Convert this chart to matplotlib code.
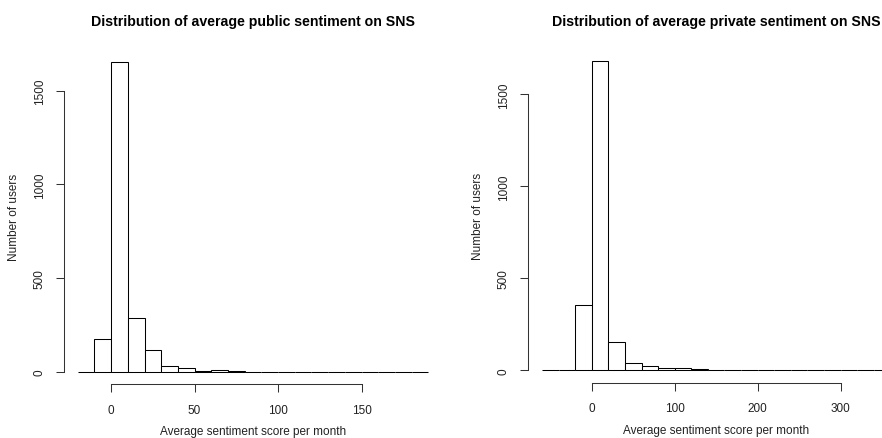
import numpy as np
import matplotlib
matplotlib.use("Agg")
import matplotlib.pyplot as plt

plt.rcParams['font.family'] = ['Liberation Sans', 'DejaVu Sans']

# ---- data ----
public_edges = np.arange(-20, 191, 10)
public_counts = [0, 174, 1655, 285, 116, 29, 18, 5, 9, 4, 1, 0, 0, 0, 0, 0, 0, 0, 0, 0, 0]

private_edges = np.arange(-60, 361, 20)
private_counts = [0, 4, 357, 1683, 152, 40, 24, 15, 11, 5, 0, 4, 0, 0, 0, 0, 0, 0, 0, 0, 2]

public_xticks = [0, 50, 100, 150]
private_xticks = [0, 100, 200, 300]
yticks = [0, 500, 1000, 1500]

titles = ["Distribution of average public sentiment on SNS",
          "Distribution of average private sentiment on SNS"]
xlabel = "Average sentiment score per month"
ylabel = "Number of users"

W, H = 882, 439
fig = plt.figure(figsize=(W / 100, H / 100), dpi=100)

def px_axes(x0, x1, ytop, ybot):
    return fig.add_axes([x0 / W, 1 - ybot / H, (x1 - x0) / W, (ybot - ytop) / H])

ax1 = px_axes(63.7, 442.4, 50.1, 385.1)
ax2 = px_axes(528.0, 904.4, 49.2, 383.7)

def draw(ax, edges, counts, xticks, title):
    edges = np.asarray(edges, float)
    counts = np.asarray(counts, float)
    ax.bar(edges[:-1], counts, width=np.diff(edges), align='edge',
           facecolor='white', edgecolor='black', linewidth=0.75)
    xr = edges[-1] - edges[0]
    ax.set_xlim(edges[0] - 0.04 * xr, edges[-1] + 0.04 * xr)
    m = counts.max()
    ax.set_ylim(-0.04 * m, 1.04 * m)
    for s in ['top', 'right']:
        ax.spines[s].set_visible(False)
    ax.spines['bottom'].set_bounds(xticks[0], xticks[-1])
    ax.spines['left'].set_bounds(yticks[0], yticks[-1])
    for s in ['bottom', 'left']:
        ax.spines[s].set_linewidth(0.75)
        ax.spines[s].set_color('#333333')
    ax.set_xticks(xticks)
    ax.set_yticks(yticks)
    ax.set_yticklabels([str(v) for v in yticks], rotation=90, va='center')
    ax.tick_params(axis='both', length=6, width=0.75, color='#333333',
                   labelsize=8.5, labelcolor='#222222')
    ax.tick_params(axis='x', pad=8)
    ax.tick_params(axis='y', pad=7)
    ax.set_xlabel(xlabel, fontsize=8.5, color='#222222', labelpad=7)
    ax.set_ylabel(ylabel, fontsize=8.5, color='#222222', labelpad=10)
    ax.set_title(title, fontsize=10.2, fontweight='bold', pad=17)
    ax.patch.set_alpha(0)

draw(ax1, public_edges, public_counts, public_xticks, titles[0])
draw(ax2, private_edges, private_counts, private_xticks, titles[1])

fig.savefig("out.png", dpi=100, facecolor='white')
